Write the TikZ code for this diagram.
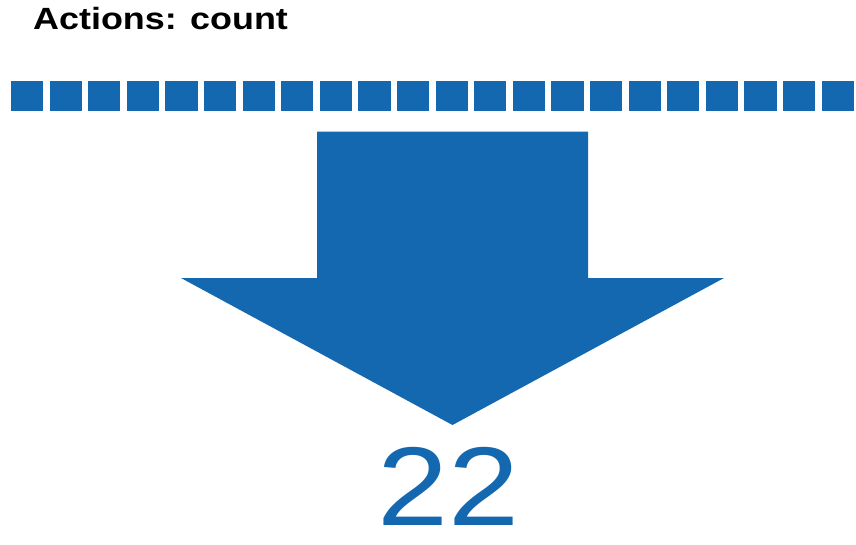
\documentclass[tikz,border=0pt]{standalone}
\usepackage{fontspec}
\setmainfont{Liberation Sans}
\definecolor{ablue}{RGB}{19,104,175}
\begin{document}
\begin{tikzpicture}[x=1pt,y=-1pt,
  sq/.style={fill=ablue,draw=none},
  title/.style={inner sep=0pt,anchor=base west,font=\fontsize{30.7}{36}\selectfont\bfseries},
  big/.style={inner sep=0pt,anchor=base,text=ablue,font=\fontsize{112}{130}\selectfont}]
\useasboundingbox (0,0) rectangle (856,544);
\node[title] (t) at (33,29.3) {\scalebox{1.17}[1]{Actions: count}};
\foreach \i in {0,...,21} {
  \fill[sq] ({11+38.6*\i},81) rectangle ++(32.2,30.3);
}
\fill[ablue] (317,131.5) -- (588,131.5) -- (588,278) -- (724,278) -- (452.5,425)
  -- (181,278) -- (317,278) -- cycle;
\node[big] (n) at (449,525) {\scalebox{1.14}[1]{22}};
\end{tikzpicture}
\end{document}
